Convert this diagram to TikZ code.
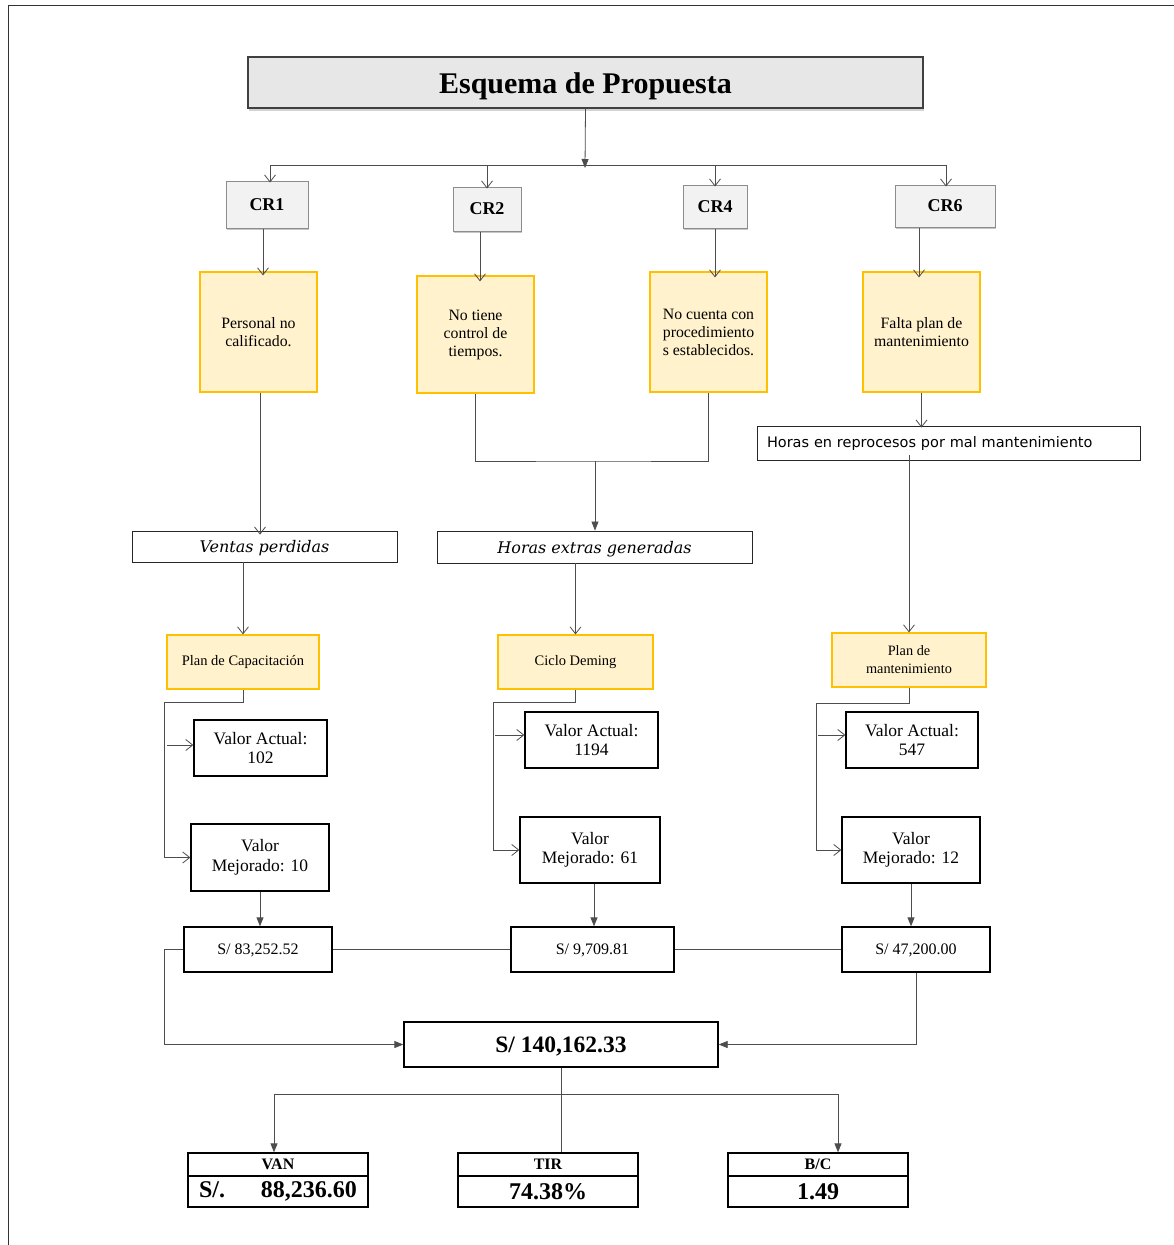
\documentclass[tikz,border=0pt]{standalone}
\usepackage{fontspec}
\setmainfont{Liberation Serif}
\newfontfamily\labelsans{DejaVu Sans}
\newfontfamily\labelital{DejaVu Serif}
\usetikzlibrary{arrows.meta,shadows}

\definecolor{creamfill}{HTML}{FFF2CC}
\definecolor{amberline}{HTML}{FFC000}
\definecolor{headfill}{HTML}{E7E7E7}
\definecolor{crfill}{HTML}{F2F2F2}
\definecolor{crline}{HTML}{8C8C8C}
\definecolor{wire}{HTML}{4D4D4D}

\newcommand{\fs}[2]{\fontsize{#1}{#2}\selectfont}

\begin{document}
\begin{tikzpicture}[x=1pt,y=-1pt,
  wire/.style={draw=wire, line width=0.8pt},
  opentip/.style={wire, -{Straight Barb[length=7pt,width=11pt]}},
  solidtip/.style={wire, -{Triangle[length=9pt,width=7pt]}},
  plainbox/.style={draw=black, line width=1.3pt, fill=white, align=center, inner sep=2pt},
  thinbox/.style={draw=black!85, line width=0.9pt, fill=white, align=center, inner sep=2pt},
  notebox/.style={draw=amberline, line width=1.2pt, fill=creamfill, align=center, inner sep=2pt},
  crbox/.style={draw=crline, line width=1pt, fill=crfill, font=\bfseries\fs{18}{18},
    drop shadow={shadow xshift=0.8pt, shadow yshift=-1.5pt, opacity=0.45}},
  causebox/.style={notebox, minimum width=117pt, font=\fs{15.8}{18}},
  valbox/.style={plainbox, font=\fs{17.5}{19.5}, minimum height=56pt},
  sumbox/.style={plainbox, font=\fs{16}{16}, minimum width=148pt, minimum height=45pt, text depth=0pt},
  kpihead/.style={plainbox, font=\bfseries\fs{16}{16}, minimum width=180pt, minimum height=23pt},
  kpival/.style={plainbox, font=\bfseries\fs{24}{24}, minimum width=180pt, minimum height=31pt}
]
\useasboundingbox (0,0) rectangle (1174,1245);

% page frame
\draw[draw=black!80, line width=0.8pt] (8,1245) -- (8,5) -- (1174,5);

% title
\node[draw=black!75, line width=1.2pt, fill=headfill, minimum width=675pt, minimum height=51pt,
  font=\bfseries\fs{30}{30}, text height=21pt, text depth=0pt,
  drop shadow={shadow xshift=1pt, shadow yshift=-3pt, opacity=0.35}] (title) at (585.5,82.5)
  {Esquema de Propuesta};

% critical causes
\node[crbox, minimum width=82pt, minimum height=47pt] (cr1) at (267,204.5) {CR1};
\node[crbox, minimum width=68pt, minimum height=44pt] (cr2) at (487,209) {CR2};
\node[crbox, minimum width=64pt, minimum height=43pt] (cr4) at (715,206.5) {CR4};
\node[crbox, minimum width=100pt, minimum height=42pt] (cr6) at (945,206) {CR6};

% problem descriptions
\node[causebox, minimum height=120pt] (p1) at (258.5,332) {Personal no\\calificado.};
\node[causebox, minimum height=117pt] (p2) at (475.5,334.5) {No tiene\\control de\\tiempos.};
\node[causebox, minimum height=120pt] (p4) at (708.5,332) {No cuenta con\\procedimiento\\s establecidos.};
\node[causebox, minimum height=120pt] (p6) at (921.5,332) {Falta plan de\\mantenimiento};

% consequences
\node[thinbox, text width=363pt, inner xsep=10pt, minimum height=34pt, align=left,
  font=\labelsans\fs{14.5}{14.5}] (reproc) at (948.5,443) {Horas en reprocesos por mal mantenimiento};
\node[thinbox, minimum width=265pt, minimum height=31pt, text depth=0pt,
  font=\labelital\itshape\fs{16}{16}] (ventas) at (264.5,546.5) {Ventas perdidas};
\node[thinbox, minimum width=315pt, minimum height=32pt, text depth=0pt,
  font=\labelital\itshape\fs{16}{16}] (extras) at (594.5,547) {Horas extras generadas};

% proposals
\node[notebox, minimum width=152pt, minimum height=54pt, font=\fs{14.5}{18}] (plancap) at (243,662) {Plan de Capacitación};
\node[notebox, minimum width=155pt, minimum height=54pt, font=\fs{14.5}{18}] (deming) at (575.5,662) {Ciclo Deming};
\node[notebox, minimum width=154pt, minimum height=54pt, font=\fs{14.3}{18}] (planmant) at (909,660) {Plan de\\mantenimiento};

% indicator values
\node[valbox, minimum width=133pt] (va1) at (260.5,748) {Valor Actual:\\102};
\node[valbox, minimum width=138pt, minimum height=67pt] (vm1) at (260,857.5) {Valor\\Mejorado: 10};
\node[valbox, minimum width=133pt] (va2) at (591.5,740) {Valor Actual:\\1194};
\node[valbox, minimum width=140pt, minimum height=66pt] (vm2) at (590,850) {Valor\\Mejorado: 61};
\node[valbox, minimum width=132pt] (va3) at (912,740) {Valor Actual:\\547};
\node[valbox, minimum width=138pt, minimum height=66pt] (vm3) at (911,850) {Valor\\Mejorado: 12};

% savings
\node[sumbox] (s1) at (258,949.5) {S/ 83,252.52};
\node[sumbox, minimum width=163pt] (s2) at (592.5,949.5) {S/ 9,709.81};
\node[sumbox] (s3) at (916,949.5) {S/ 47,200.00};
\node[plainbox, minimum width=314pt, minimum height=45pt, text depth=0pt,
  font=\bfseries\fs{23.5}{23.5}] (total) at (561,1044.5) {S/ 140,162.33};

% economic indicators
\node[kpihead] (vanh) at (278,1164.5) {VAN};
\node[kpival] (vanv) at (278,1191.5) {\makebox[158pt]{S/.\hfill 88,236.60}};
\node[kpihead] (tirh) at (548,1164.5) {TIR};
\node[kpival] (tirv) at (548,1191.5) {74.38\%};
\node[kpihead] (bch) at (818,1164.5) {B/C};
\node[kpival] (bcv) at (818,1191.5) {1.49};

% ---- connectors ----
\coordinate (busmid) at (585,165);
\coordinate (busl) at (270,165);
\coordinate (busr) at (946,165);
\draw[solidtip] (title.south) -- ([yshift=-3pt]busmid);
\draw[wire] (busl) -- (busr);
\draw[opentip] (busl) -- ([yshift=-2pt]busl |- cr1.north);
\draw[opentip] (busmid -| cr2.north) -- ([yshift=-2pt]cr2.north);
\draw[opentip] (busmid -| cr4.north) -- ([yshift=-2pt]cr4.north);
\draw[opentip] (busr) -- ([yshift=-2pt]busr |- cr6.north);

\draw[opentip] ([xshift=-4pt]cr1.south) -- ([xshift=-4pt,yshift=-4pt]cr1.south |- p1.north);
\draw[opentip] ([xshift=-7pt]cr2.south) -- ([xshift=-7pt,yshift=-6pt]cr2.south |- p2.north);
\draw[opentip] (cr4.south) -- ([yshift=-6pt]cr4.south |- p4.north);
\draw[opentip] ([xshift=-26pt]cr6.south) -- ([xshift=-26pt,yshift=-6pt]cr6.south |- p6.north);

% CR2 and CR4 merge into overtime
\coordinate (merge) at (595,461);
\draw[wire] (p2.south) |- (merge) -| (p4.south);
\draw[solidtip] (merge) -- (merge |- extras.north);

\draw[opentip] ([xshift=1.5pt]p1.south) -- ([xshift=1.5pt,yshift=-4pt]p1.south |- ventas.north);
\draw[opentip] (p6.south) -- ([yshift=-2pt]p6.south |- reproc.north);

\draw[opentip] ([yshift=5pt]planmant.north |- reproc.south) -- (planmant.north);
\draw[opentip] (plancap.north |- ventas.south) -- (plancap.north);
\draw[opentip] (deming.north |- extras.south) -- (deming.north);

% proposal -> indicator values
\coordinate (t1) at (164,702);
\coordinate (t2) at (493,702);
\coordinate (t3) at (816,703);
\draw[opentip] (plancap.south) |- (t1) |- (vm1.west);
\draw[opentip] ([xshift=3pt]t1 |- 0,745) -- (va1.west |- 0,745);
\draw[opentip] (deming.south) |- (t2) |- (vm2.west);
\draw[opentip] ([xshift=2pt]t2 |- 0,735) -- (va2.west |- 0,735);
\draw[opentip] (planmant.south) |- (t3) |- (vm3.west);
\draw[opentip] ([xshift=2pt]t3 |- 0,735) -- (va3.west |- 0,735);

% improved values -> savings
\draw[solidtip] (vm1.south) -- (vm1.south |- s1.north);
\draw[solidtip] ([xshift=4pt]vm2.south) -- ([xshift=4pt]vm2.south |- s2.north);
\draw[solidtip] (vm3.south) -- (vm3.south |- s3.north);
\draw[wire] (s1.east) -- (s2.west);
\draw[wire] (s2.east) -- (s3.west);

% savings -> total
\coordinate (sl) at (164,949.5);
\draw[solidtip] (s1.west) -- (sl) |- (total.west);
\draw[solidtip] (s3.south) |- (total.east);

% total -> indicators
\coordinate (kl) at (274,1094);
\coordinate (kr) at (838,1094);
\draw[wire] (kl) -- (kr);
\draw[wire] (total.south) -- (tirh.north -| total.south);
\draw[solidtip] (kl) -- (kl |- vanh.north);
\draw[solidtip] (kr) -- (kr |- bch.north);

\end{tikzpicture}
\end{document}
